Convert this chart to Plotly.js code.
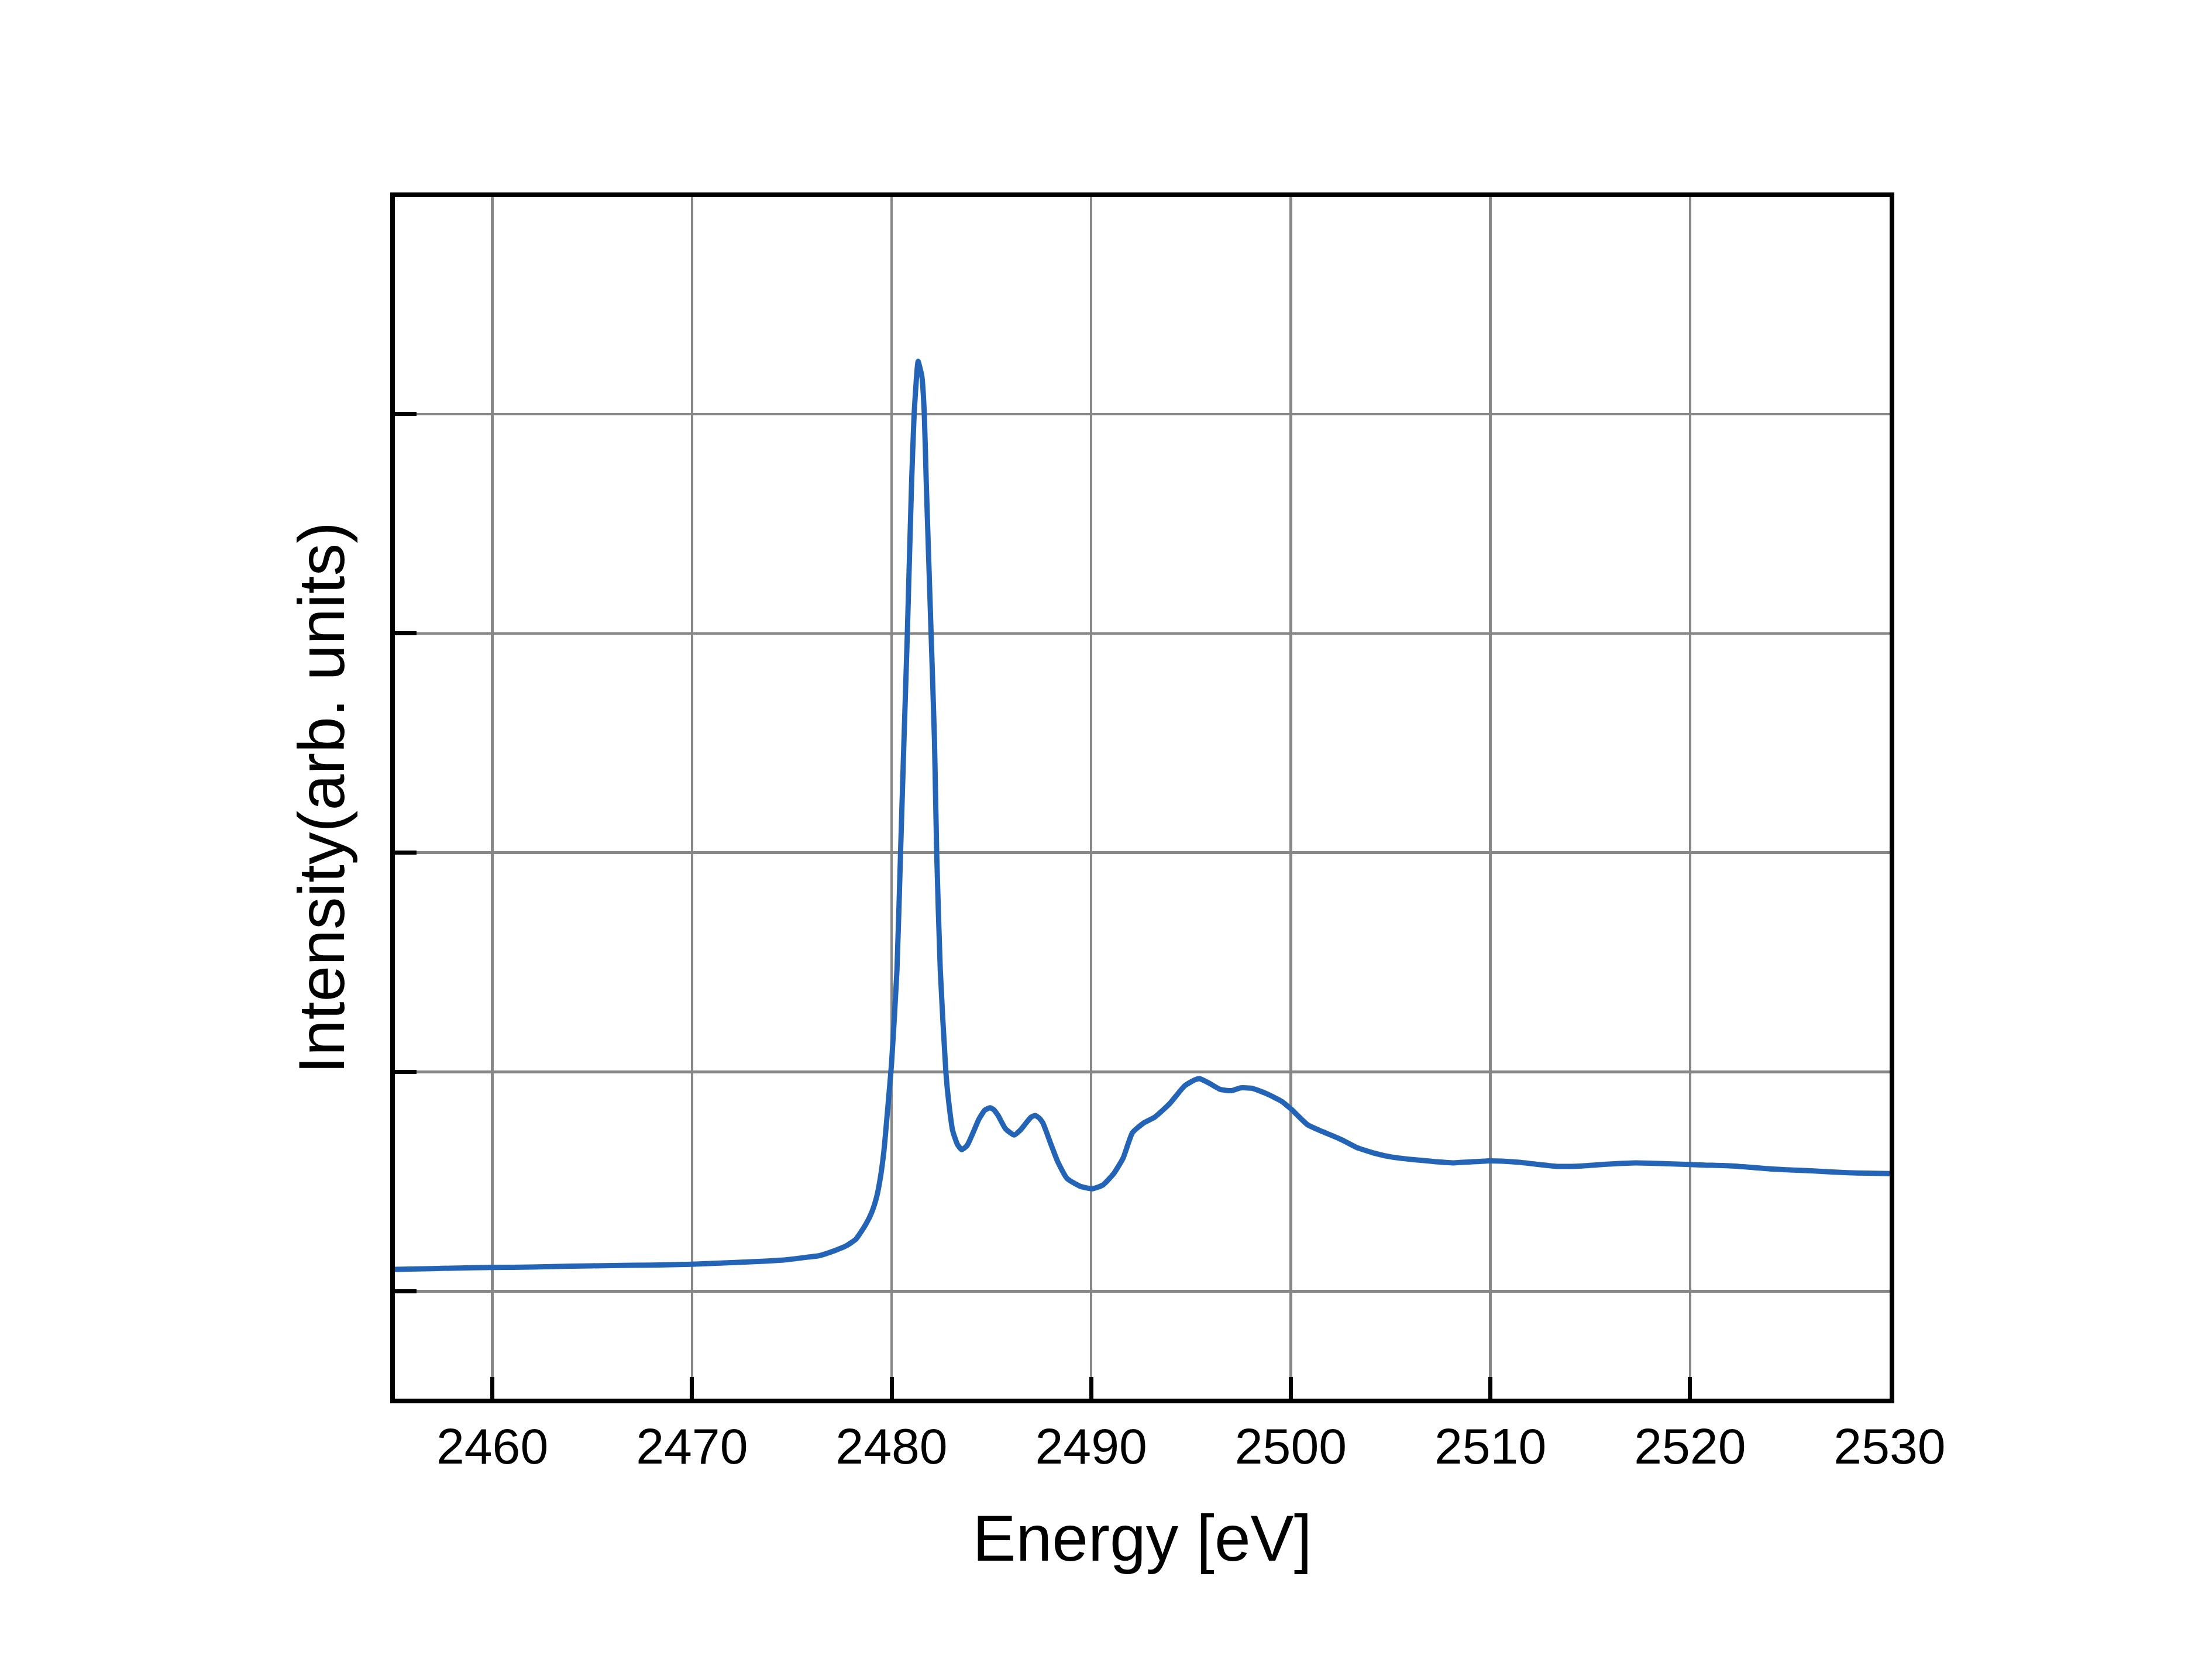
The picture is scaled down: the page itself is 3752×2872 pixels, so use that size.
<!DOCTYPE html>
<html>
<head>
<meta charset="utf-8">
<script src="https://cdn.plot.ly/plotly-3.0.1.min.js"></script>
<style>
  body { margin: 0; background: #fff; }
</style>
</head>
<body>
<div id="myDiv"></div>
<script>
// energy axis (eV)
let energy = [
  2455.0, 2457.0, 2459.0, 2460.0, 2462.0, 2464.0, 2466.0, 2468.0, 2470.0, 2472.5,
  2474.6, 2475.78, 2476.37, 2477.15, 2477.73, 2478.22, 2478.71, 2479.0, 2479.25, 2479.44,
  2479.62, 2479.77, 2479.88, 2480.0, 2480.27, 2480.45, 2480.62, 2480.79, 2481.0, 2481.13,
  2481.25, 2481.33, 2481.45, 2481.52, 2481.64, 2481.74, 2481.98, 2482.15, 2482.26, 2482.44,
  2482.72, 2482.86, 2483.06, 2483.3, 2483.52, 2483.79, 2484.08, 2484.38, 2484.67, 2484.93,
  2485.1, 2485.33, 2485.71, 2486.14, 2486.45, 2486.74, 2487.0, 2487.2, 2487.4, 2487.58,
  2487.95, 2488.33, 2488.79, 2489.45, 2490.05, 2490.57, 2491.13, 2491.6, 2492.07, 2492.63,
  2493.19, 2493.94, 2494.68, 2495.2, 2495.43, 2495.9, 2496.46, 2497.02, 2497.49, 2498.05,
  2498.8, 2499.55, 2500.03, 2500.85, 2501.6, 2502.53, 2503.28, 2504.18, 2505.08, 2506.33,
  2508.13, 2509.93, 2511.36, 2513.33, 2514.59, 2515.67, 2517.28, 2518.89, 2520.69, 2522.13,
  2524.28, 2526.07, 2527.87, 2530.0
];

// intensity, arb. units (gridlines sit at 0..4)
let intensity = [
  0.100, 0.104, 0.108, 0.109, 0.111, 0.115, 0.118, 0.120, 0.124, 0.133,
  0.143, 0.156, 0.163, 0.186, 0.208, 0.239, 0.306, 0.359, 0.430, 0.519,
  0.643, 0.795, 0.910, 1.04, 1.465, 2.00, 2.51, 3.00, 3.68, 4.00,
  4.17, 4.24, 4.20, 4.17, 4.00, 3.68, 3.00, 2.51, 2.00, 1.465,
  1.00, 0.866, 0.733, 0.670, 0.646, 0.666, 0.723, 0.786, 0.826, 0.837,
  0.83, 0.803, 0.741, 0.713, 0.735, 0.768, 0.795, 0.802, 0.79, 0.768,
  0.679, 0.59, 0.515, 0.479, 0.468, 0.484, 0.537, 0.608, 0.724, 0.768,
  0.795, 0.857, 0.937, 0.965, 0.97, 0.95, 0.921, 0.915, 0.928, 0.926,
  0.901, 0.866, 0.83, 0.759, 0.728, 0.692, 0.657, 0.630, 0.612, 0.599,
  0.586, 0.595, 0.589, 0.570, 0.572, 0.579, 0.586, 0.582, 0.576, 0.572,
  0.557, 0.550, 0.541, 0.537
];

let xTicks = [2460, 2470, 2480, 2490, 2500, 2510, 2520, 2530];
let yTicks = [0, 1, 2, 3, 4];

let spectrum = {
  x: energy,
  y: intensity,
  mode: "lines",
  line: { color: "#2364b6", width: 9, shape: "spline", smoothing: 0.5 },
  hoverinfo: "skip"
};

let fontName = "Liberation Sans, Arial, sans-serif";

let layout = {
  width: 3752,
  height: 2872,
  // the frame line sits outside the plot area, so the area is 4px in on each side
  margin: { l: 675, r: 522, t: 337, b: 481 },
  paper_bgcolor: "#fff",
  plot_bgcolor: "#fff",
  showlegend: false,
  font: { family: fontName, color: "#000" },
  xaxis: {
    range: [2455.117, 2530.0],
    tickvals: xTicks,
    ticktext: xTicks.map(String),
    ticks: "inside",
    ticklen: 37,
    tickwidth: 7,
    tickcolor: "#000",
    tickfont: { size: 86, family: fontName },
    showline: true,
    linewidth: 8,
    linecolor: "#000",
    mirror: true,
    showgrid: true,
    gridcolor: "#878787",
    gridwidth: 4.5,
    zeroline: false,
    title: { text: "Energy [eV]", font: { size: 111, family: fontName }, standoff: 74 }
  },
  yaxis: {
    range: [-0.489, 4.989],
    tickvals: yTicks,
    showticklabels: false,
    ticks: "inside",
    ticklen: 37,
    tickwidth: 7,
    tickcolor: "#000",
    showline: true,
    linewidth: 8,
    linecolor: "#000",
    mirror: true,
    showgrid: true,
    gridcolor: "#878787",
    gridwidth: 4.5,
    zeroline: false,
    title: { text: "Intensity(arb. units)", font: { size: 111, family: fontName }, standoff: 44 }
  }
};

Plotly.newPlot("myDiv", [spectrum], layout, { staticPlot: true });
</script>
</body>
</html>
